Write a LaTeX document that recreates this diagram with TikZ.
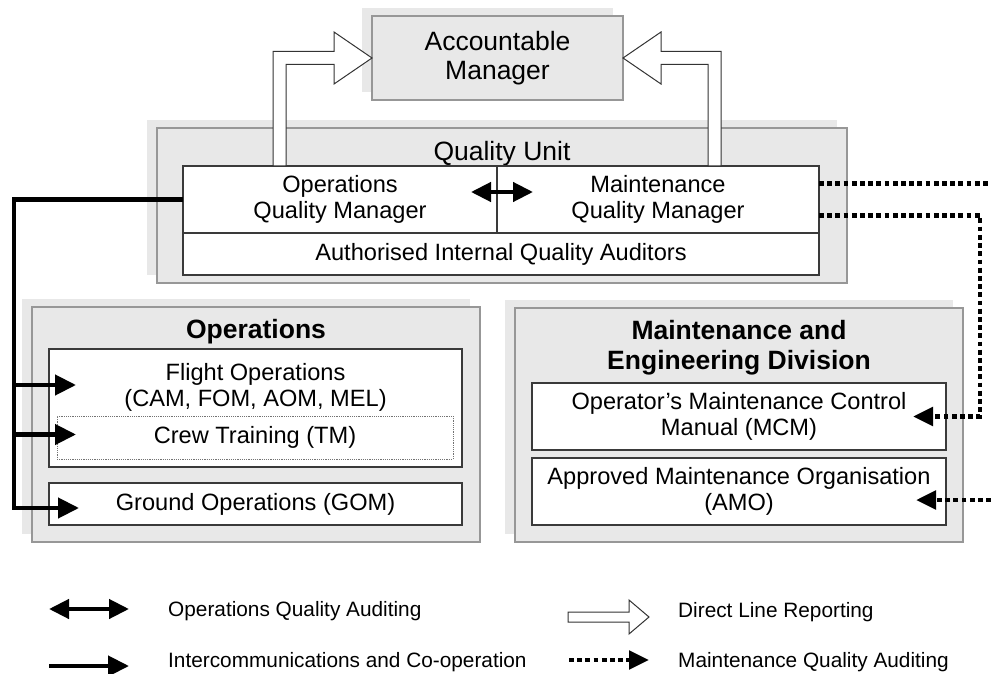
\documentclass[tikz,border=0pt]{standalone}
\usepackage{fontspec}
\setmainfont{Liberation Sans}
\usetikzlibrary{arrows.meta, calc, shadows}
\definecolor{panelgray}{HTML}{E8E8E8}
\definecolor{paneledge}{HTML}{979797}
\definecolor{celledge}{HTML}{3A3A3A}

\begin{document}
\begin{tikzpicture}[
  x=1pt, y=-1pt,
  panel/.style={
    rectangle,
    draw=paneledge,
    fill=panelgray,
    line width=1.2pt,
    inner sep=0pt,
    outer sep=0pt,
    general shadow={shadow xshift=-10pt, shadow yshift=8pt, fill=panelgray}
  },
  cell/.style={
    rectangle,
    draw=celledge,
    fill=white,
    line width=1.2pt,
    inner sep=0pt,
    outer sep=0pt,
    align=center,
    font=\fontsize{23.6pt}{26pt}\selectfont
  },
  bodytext/.style={align=center, font=\fontsize{23.6pt}{26pt}\selectfont},
  title/.style={align=center, font=\fontsize{26.5pt}{29pt}\selectfont},
  divtitle/.style={align=center, font=\fontsize{26.5pt}{30pt}\selectfont\bfseries},
  legendtext/.style={anchor=west, inner sep=0pt, font=\fontsize{20.8pt}{24pt}\selectfont},
  intercom/.style={line width=4.3pt, -{Triangle[length=21pt, width=20pt]}},
  opsaudit/.style={line width=4.3pt, {Triangle[length=20pt, width=19pt]}-{Triangle[length=20pt, width=19pt]}},
  mntline/.style={line width=4.8pt, dash pattern=on 4.8pt off 3.4pt},
  mntaudit/.style={mntline, -{Triangle[length=20pt, width=18pt]}},
  reporting/.style={draw=black!80, fill=white, line width=1pt, line join=miter}
]
  \useasboundingbox (0,0) rectangle (991,674);

  \node[panel, title, minimum width=251pt, minimum height=84pt] (am) at (497.5,58) {Accountable\\Manager};

  \node[panel, minimum width=690pt, minimum height=155pt] (qu) at (502,205.5) {};
  \node[title] (qutitle) at (502,154) {Quality Unit};
  \node[cell, minimum width=314pt, minimum height=67pt] (oqm) at (340,199.5) {Operations\\Quality Manager};
  \node[cell, minimum width=322pt, minimum height=67pt] (mqm) at (658,199.5) {Maintenance\\Quality Manager};
  \node[cell, minimum width=636pt, minimum height=42pt] (qia) at (501,254) {Authorised Internal Quality Auditors};

  \node[panel, minimum width=448pt, minimum height=235pt] (ops) at (256,424.5) {};
  \node[divtitle] (opstitle) at (256,332) {Operations};
  \node[cell, minimum width=413pt, minimum height=118pt] (flight) at (255.5,408) {};
  \node[bodytext] (flighttxt) at (255.5,387) {Flight Operations\\(CAM, FOM, AOM, MEL)};
  \node[cell, draw=black!55, densely dotted, line width=0.8pt, minimum width=396pt, minimum height=43pt] (crew) at (255,437.5) {Crew Training (TM)};
  \node[cell, minimum width=413pt, minimum height=42pt] (ground) at (255.5,504) {Ground Operations (GOM)};

  \node[panel, minimum width=448pt, minimum height=234pt] (mnt) at (739,425) {};
  \node[divtitle] (mnttitle) at (739,348) {Maintenance and\\Engineering Division};
  \node[cell, minimum width=414pt, minimum height=67pt] (mcm) at (739,416.5) {Operator’s Maintenance Control\\Manual (MCM)};
  \node[cell, minimum width=414pt, minimum height=67pt] (amo) at (739,491.5) {Approved Maintenance Organisation\\(AMO)};

  % direct line reporting
  \draw[reporting] (am.west) -- ++(-38,-26) -- ++(0,19.5) -| ($(oqm.north)+(-67,0)$) -- ++(13,0)
    |- ($(am.west)+(-38,6.5)$) -- ++(0,19.5) -- cycle;
  \draw[reporting] (am.east) -- ++(38,-26) -- ++(0,19.5) -| ($(mqm.north)+(63,0)$) -- ++(-13,0)
    |- ($(am.east)+(38,6.5)$) -- ++(0,19.5) -- cycle;

  \draw[opsaudit] ($(oqm.east)+(-26,-7.5)$) -- ($(mqm.west)+(36,-7.5)$);

  \draw[intercom] ($(ground.west |- flighttxt.west)+(-35,-2)$) -- ($(ground.west |- flighttxt.west)+(27,-2)$);
  \draw[intercom] ($(crew.west)+(-43,-3)$) -- ($(crew.west)+(19,-3)$);
  \draw[intercom] (oqm.west) -| ($(ground.west)+(-35,4)$) -- ($(ground.west)+(30,4)$);

  \coordinate (mntfeed) at (991,183.5);
  \draw[mntline] ($(mqm.east)+(0,-16)$) -- (mntfeed);
  \draw[mntaudit] ($(mqm.east)+(0,16)$) -| ($(mcm.east)+(34,0)$) -- ($(mcm.east)+(-33,0)$);
  \draw[mntaudit] ($(amo.east)+(45,8.5)$) -- ($(amo.east)+(-30,8.5)$);

  % legend
  \node[legendtext] (lgops) at (168,611) {Operations Quality Auditing};
  \node[legendtext] (lgint) at (168,662) {Intercommunications and Co-operation};
  \node[legendtext] (lgrep) at (678,612) {Direct Line Reporting};
  \node[legendtext] (lgmnt) at (678,662) {Maintenance Quality Auditing};
  \draw[opsaudit] ($(lgops.west)+(-119,-2)$) -- ($(lgops.west)+(-39,-2)$);
  \draw[intercom] ($(lgint.west)+(-119,4)$) -- ($(lgint.west)+(-39,4)$);
  \draw[reporting] ($(lgrep.west)+(-110,0)$) -- ++(61,0) -- ++(0,-12) -- ++(20,17) -- ++(-20,17)
    -- ++(0,-12) -- ++(-61,0) -- cycle;
  \draw[mntaudit] ($(lgmnt.west)+(-109,-2)$) -- ($(lgmnt.west)+(-29,-2)$);
\end{tikzpicture}
\end{document}
